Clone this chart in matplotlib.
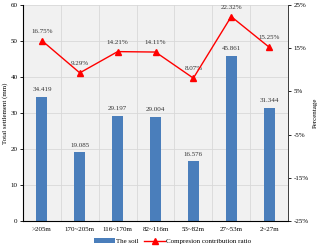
import matplotlib
matplotlib.use("Agg")
import matplotlib.pyplot as plt
import numpy as np

categories = [">205m", "170~205m", "116~170m", "82~116m", "53~82m", "27~53m", "2~27m"]
settlement = [34.419, 19.085, 29.197, 29.004, 16.576, 45.861, 31.344]
ratio = [16.75, 9.29, 14.21, 14.11, 8.07, 22.32, 15.25]

plt.rcParams['font.family'] = ['Liberation Serif', 'DejaVu Serif']
fs = 5

fig = plt.figure(figsize=(3.2, 2.49), dpi=100)
ax = fig.add_axes([23/320, 1 - 221/249, (288-23)/320, (221-5)/249])
ax.set_facecolor('#f1f1f1')
x = np.arange(len(categories))
bars = ax.bar(x, settlement, width=0.29, color='#4a7ebb', zorder=3, label='The soil')
ax.set_xlim(-0.5, len(categories) - 0.5)
ax.set_ylim(0, 60)
ax.set_yticks(range(0, 61, 10))
ax.set_xticks(x)
ax.set_xticklabels(categories)
ax.tick_params(axis='both', labelsize=fs, length=2, width=0.6, pad=2)
ax.tick_params(axis='x', length=0, pad=4)
ax.set_xticks(np.arange(0.5, len(categories) - 0.5), minor=True)
ax.tick_params(axis='x', which='minor', length=0)
ax.grid(True, which='minor', axis='x', color='#d8d8d8', lw=0.6, zorder=0)
ax.grid(True, which='major', axis='y', color='#d8d8d8', lw=0.6, zorder=0)
ax.set_ylabel('Total settlement (mm)', fontsize=fs, labelpad=2)
for xi, v in zip(x, settlement):
    ax.text(xi, v + 1.3, f"{v:.3f}", ha='center', va='bottom', fontsize=fs, color='#333333', zorder=5)
for s in ['top']:
    ax.spines[s].set_visible(False)
for s in ['left', 'right', 'bottom']:
    ax.spines[s].set_color('#404040')
    ax.spines[s].set_linewidth(0.7)

ax2 = ax.twinx()
line, = ax2.plot(x, ratio, color='red', marker='^', markersize=5, lw=1.0, zorder=4,
                 label='Compresion contribution ratio')
ax2.set_ylim(-25, 25)
ax2.set_yticks(range(-25, 26, 10))
ax2.set_yticklabels([f"{t}%" for t in range(-25, 26, 10)])
ax2.tick_params(axis='y', labelsize=fs, length=2, width=0.6, pad=2)
ax2.set_ylabel('Percentage', fontsize=fs, labelpad=3)
ax2.spines['top'].set_visible(False)
ax2.spines['right'].set_color('#404040')
ax2.spines['right'].set_linewidth(0.7)
for xi, v in zip(x, ratio):
    ax2.text(xi, v + 1.6, f"{v:.2f}%", ha='center', va='bottom', fontsize=fs, color='#333333')

fig.legend([bars, line], ['The soil', 'Compresion contribution ratio'],
           loc='center', bbox_to_anchor=(0.54, 1 - 241/249), ncol=2, fontsize=fs,
           frameon=False, handlelength=3, columnspacing=0.8, handletextpad=0.2)

fig.savefig('out.png', dpi=100)
